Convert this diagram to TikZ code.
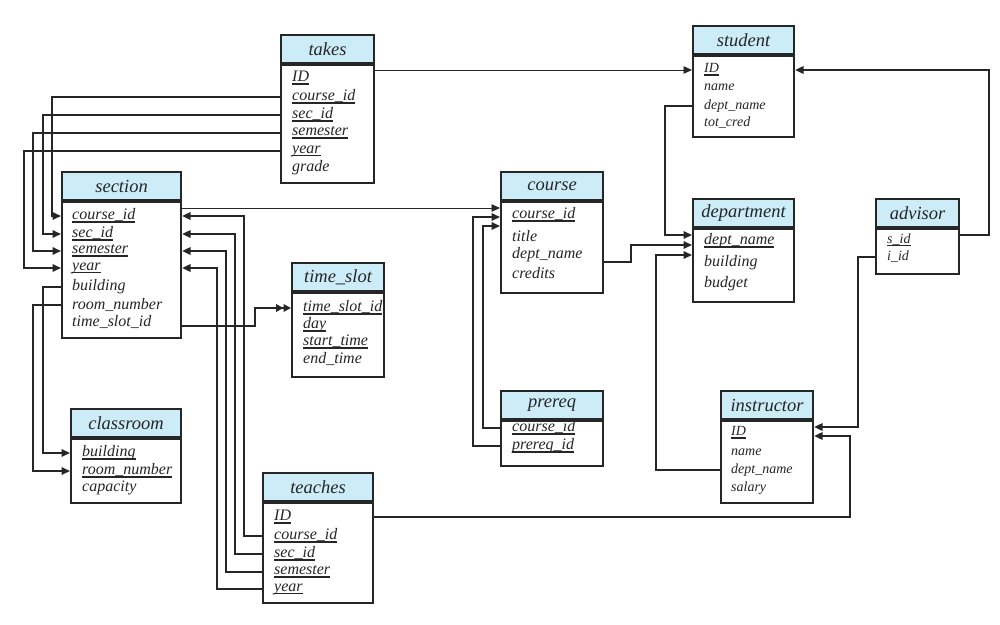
\documentclass[tikz,border=0pt]{standalone}
\usepackage{fontspec}
\setmainfont{Liberation Serif}
\usetikzlibrary{arrows.meta,calc}
\definecolor{hdrblue}{RGB}{204,236,248}
\definecolor{ink}{RGB}{38,38,38}
% primary key attribute: thick underline
\newcommand{\pk}[1]{\setbox0=\hbox{#1}\rlap{\color{ink}\rule[-3.2pt]{\wd0}{1.7pt}}\box0}
\begin{document}
\begin{tikzpicture}[x=1pt,y=-1pt,
  head/.style={anchor=north west,draw=ink,line width=2.1pt,fill=hdrblue,minimum height=28pt,inner sep=0pt,text=ink,font=\fontsize{18.5}{20}\selectfont\itshape},
  body/.style={anchor=north west,draw=ink,line width=2.1pt,fill=white,inner sep=0pt},
  att/.style={anchor=west,inner sep=0pt,text=ink,font=\fontsize{16}{17}\selectfont\itshape},
  satt/.style={att,font=\fontsize{14}{15}\selectfont\itshape},
  fk/.style={draw=ink,line width=1.8pt,-{Triangle[length=8.5pt,width=7.5pt]}},
  thinfk/.style={fk,line width=0.9pt},
  dblfk/.style={fk,-{Triangle[length=7.5pt,width=7.5pt]Triangle[length=7.5pt,width=7.5pt]}}]
\useasboundingbox (0,0) rectangle (1000,624);
% takes
\node (takes) at (280,34) [head,minimum width=93pt] {takes};
\node (takes-b) at (takes.south west) [body,minimum width=93pt,minimum height=118pt] {};
\node (takes-id) at (292,78) [att] {\pk{ID}};
\node (takes-cid) at (292,97) [att] {\pk{course\_id}};
\node (takes-sid) at (292,115) [att] {\pk{sec\_id}};
\node (takes-sem) at (292,133) [att] {\pk{semester}};
\node (takes-yr) at (292,151) [att] {\pk{year}};
\node (takes-gr) at (292,168) [att] {grade};
% student
\node (stu) at (692,25) [head,minimum width=101pt] {student};
\node (stu-b) at (stu.south west) [body,minimum width=101pt,minimum height=81pt] {};
\node (stu-id) at (704,70) [satt] {\pk{ID}};
\node (stu-nm) at (704,87) [satt] {name};
\node (stu-dn) at (704,106) [satt] {dept\_name};
\node (stu-tc) at (704,123) [satt] {tot\_cred};
% section
\node (sec) at (61,171) [head,minimum width=119pt] {section};
\node (sec-b) at (sec.south west) [body,minimum width=119pt,minimum height=136pt] {};
\node (sec-cid) at (72,216) [att] {\pk{course\_id}};
\node (sec-sid) at (72,234) [att] {\pk{sec\_id}};
\node (sec-sem) at (72,251) [att] {\pk{semester}};
\node (sec-yr) at (72,268) [att] {\pk{year}};
\node (sec-bld) at (72,287) [att] {building};
\node (sec-rn) at (72,305) [att] {room\_number};
\node (sec-ts) at (72,322) [att] {time\_slot\_id};
% course
\node (crs) at (500,171) [head,minimum width=102pt] {course};
\node (crs-b) at (crs.south west) [body,minimum width=102pt,minimum height=91pt] {};
\node (crs-cid) at (512,215) [att] {\pk{course\_id}};
\node (crs-tt) at (512,236) [att] {title};
\node (crs-dn) at (512,255) [att] {dept\_name};
\node (crs-cr) at (512,273) [att] {credits};
% department
\node (dep) at (692,198) [head,minimum width=101pt] {department};
\node (dep-b) at (dep.south west) [body,minimum width=101pt,minimum height=73pt] {};
\node (dep-dn) at (704,241) [att] {\pk{dept\_name}};
\node (dep-bld) at (704,263) [att] {building};
\node (dep-bg) at (704,284) [att] {budget};
% advisor
\node (adv) at (875,198) [head,minimum width=83pt] {advisor};
\node (adv-b) at (adv.south west) [body,minimum width=83pt,minimum height=45pt] {};
\node (adv-sid) at (887,240) [satt] {\pk{s\_id}};
\node (adv-iid) at (887,257) [satt] {i\_id};
% time_slot
\node (ts) at (291,262) [head,minimum width=92pt] {time\_slot};
\node (ts-b) at (ts.south west) [body,minimum width=92pt,minimum height=84pt] {};
\node (ts-id) at (303,308) [att] {\pk{time\_slot\_id}};
\node (ts-day) at (303,325) [att] {\pk{day}};
\node (ts-st) at (303,342) [att] {\pk{start\_time}};
\node (ts-et) at (303,359) [att] {end\_time};
% classroom
\node (cls) at (70,408) [head,minimum width=110pt] {classroom};
\node (cls-b) at (cls.south west) [body,minimum width=110pt,minimum height=64pt] {};
\node (cls-bld) at (82,453) [att] {\pk{building}};
\node (cls-rn) at (82,471) [att] {\pk{room\_number}};
\node (cls-cap) at (82,488) [att] {capacity};
% teaches
\node (tch) at (262,472) [head,minimum width=110pt] {teaches};
\node (tch-b) at (tch.south west) [body,minimum width=110pt,minimum height=100pt] {};
\node (tch-id) at (274,517) [att] {\pk{ID}};
\node (tch-cid) at (274,536) [att] {\pk{course\_id}};
\node (tch-sid) at (274,554) [att] {\pk{sec\_id}};
\node (tch-sem) at (274,572) [att] {\pk{semester}};
\node (tch-yr) at (274,589) [att] {\pk{year}};
% prereq
\node (pre) at (500,390) [head,minimum width=102pt] {prereq};
\node (pre-b) at (pre.south west) [body,minimum width=102pt,minimum height=45pt] {};
\node (pre-cid) at (512,428) [att] {\pk{course\_id}};
\node (pre-pid) at (512,446) [att] {\pk{prereq\_id}};
% instructor
\node (ins) at (720,390) [head,minimum width=92pt] {instructor};
\node (ins-b) at (ins.south west) [body,minimum width=92pt,minimum height=82pt] {};
\node (ins-id) at (731,433) [satt] {\pk{ID}};
\node (ins-nm) at (731,452) [satt] {name};
\node (ins-dn) at (731,470) [satt] {dept\_name};
\node (ins-sal) at (731,488) [satt] {salary};
% takes -> student, section
\draw[thinfk] (takes-b.east |- stu-id) -- (stu-b.west |- stu-id);
\draw[fk] (takes-b.west |- takes-cid) -- ++(-228,0) |- (sec-b.west |- sec-cid);
\draw[fk] (takes-b.west |- takes-sid) -- ++(-237,0) |- (sec-b.west |- sec-sid);
\draw[fk] (takes-b.west |- takes-sem) -- ++(-247,0) |- (sec-b.west |- sec-sem);
\draw[fk] (takes-b.west |- takes-yr) -- ++(-256,0) |- (sec-b.west |- sec-yr);
% section -> classroom, time_slot, course
\draw[fk] (sec-b.west |- sec-bld) -- ++(-18,0) |- (cls-b.west |- cls-bld);
\draw[fk] (sec-b.west |- sec-rn) -- ++(-28,0) |- (cls-b.west |- cls-rn);
\draw[dblfk] ($(sec-b.east |- sec-ts)+(0,4)$) -- ++(73,0) |- (ts-b.west |- ts-id);
\draw[thinfk] ($(sec-b.east |- crs-cid)+(0,-7)$) -- ($(crs-b.west |- crs-cid)+(0,-7)$);
% teaches -> section, instructor
\draw[fk] (tch-b.west |- tch-cid) -- ++(-18,0) |- (sec-b.east |- sec-cid);
\draw[fk] (tch-b.west |- tch-sid) -- ++(-27,0) |- (sec-b.east |- sec-sid);
\draw[fk] (tch-b.west |- tch-sem) -- ++(-36,0) |- (sec-b.east |- sec-sem);
\draw[fk] (tch-b.west |- tch-yr) -- ++(-45,0) |- (sec-b.east |- sec-yr);
\draw[fk] (tch-b.east |- tch-id) -- ++(476,0) |- ($(ins-b.east |- ins-id)+(0,3)$);
% prereq -> course
\draw[fk] (pre-b.west |- pre-cid) -- ++(-17,0) |- ($(crs-b.west |- crs-cid)+(0,11)$);
\draw[fk] (pre-b.west |- pre-pid) -- ++(-27,0) |- ($(crs-b.west |- crs-cid)+(0,2)$);
% dept_name -> department
\draw[fk] (stu-b.west |- stu-dn) -- ++(-27,0) |- ($(dep-b.west |- dep-dn)+(0,-6)$);
\draw[fk] ($(crs-b.east |- crs-dn)+(0,7)$) -- ++(27,0) |- ($(dep-b.west |- dep-dn)+(0,4)$);
\draw[fk] (ins-b.west |- ins-dn) -- ++(-64,0) |- ($(dep-b.west |- dep-dn)+(0,14)$);
% advisor -> student, instructor
\draw[fk] ($(adv-b.east |- adv-sid)+(0,-5)$) -- ++(29,0) |- (stu-b.east |- stu-id);
\draw[fk] (adv-b.west |- adv-iid) -- ++(-17,0) |- ($(ins-b.east |- ins-id)+(0,-6)$);
\end{tikzpicture}
\end{document}
